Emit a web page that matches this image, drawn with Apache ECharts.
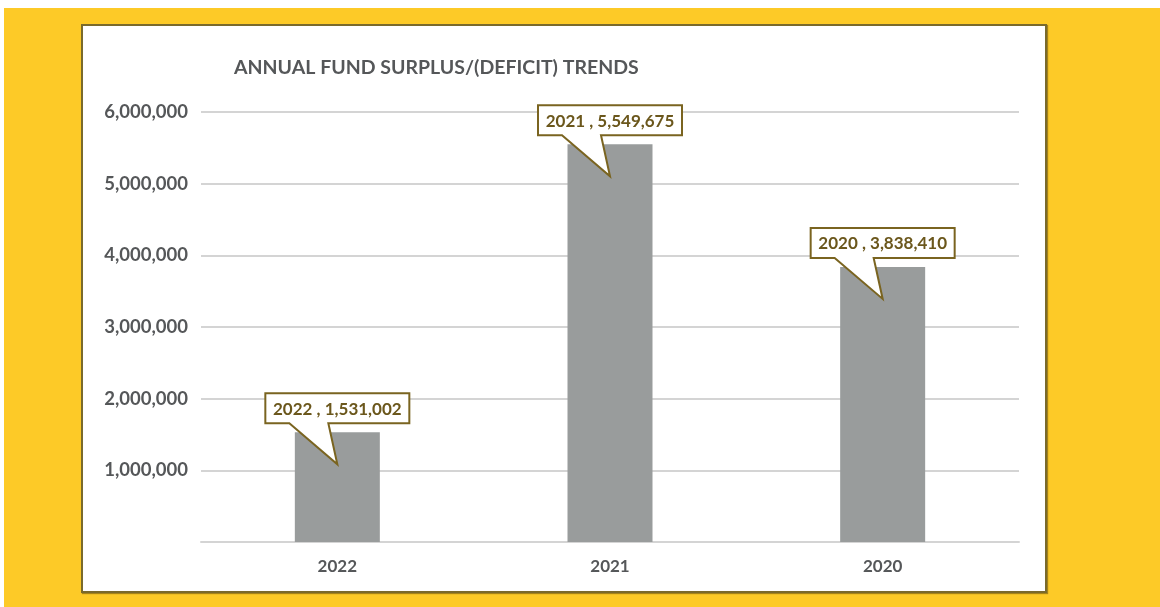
<!DOCTYPE html>
<html>
<head>
<meta charset="utf-8">
<script src="https://cdn.jsdelivr.net/npm/echarts@6/dist/echarts.min.js"></script>
<style>
  html, body { margin: 0; padding: 0; background: #fff; }
  #bg { position: absolute; left: 4px; top: 8px; width: 1156px; height: 599px; background: #fdca27; }
  #box { position: absolute; left: 81px; top: 24px; width: 962px; height: 565px; background: #fff;
         border: 2px solid #7a6a2c; box-shadow: 1px 1px 1px rgba(0,0,0,0.35); }
  #chart { position: absolute; left: 0; top: 0; width: 1160px; height: 607px; }
</style>
</head>
<body>
<div id="bg"></div>
<div id="box"></div>
<div id="chart"></div>
<script>
// chart data
const years = ["2022", "2021", "2020"];
const surplus = [1531002, 5549675, 3838410];
const yTicks = [0, 1000000, 2000000, 3000000, 4000000, 5000000, 6000000];

const fontName = "Lato";
const textGray = "#555759";
const olive = "#7a6420";

function fmt(n) {
  return n.toLocaleString("en-US");
}

let chart = echarts.init(document.getElementById("chart"));

let option = {
  backgroundColor: "transparent",
  animation: false,
  title: {
    text: "ANNUAL FUND SURPLUS/(DEFICIT) TRENDS",
    left: 229,
    top: 53,
    textStyle: { fontFamily: fontName, fontSize: 19.5, fontWeight: "bold", color: textGray }
  },
  grid: { left: 201, right: 141, top: 112, bottom: 65 },
  xAxis: {
    type: "category",
    data: years,
    axisLine: { lineStyle: { color: "#d4d4d4", width: 2 } },
    axisTick: { show: false },
    axisLabel: { margin: 16, fontFamily: fontName, fontSize: 17, fontWeight: "bold", color: textGray }
  },
  yAxis: {
    type: "value",
    min: yTicks[0],
    max: yTicks[yTicks.length - 1],
    interval: 1000000,
    axisLine: { show: false },
    axisTick: { show: false },
    splitLine: { lineStyle: { color: "#d4d4d4", width: 2 } },
    axisLabel: {
      margin: 13,
      fontFamily: fontName, fontSize: 18.5, fontWeight: "bold", color: textGray,
      formatter: v => (v === 0 ? "" : fmt(v))
    }
  },
  series: [
    {
      type: "bar",
      data: surplus,
      barWidth: 85,
      itemStyle: { color: "#999c9c" }
    },
    {
      // callout boxes
      type: "custom",
      data: surplus.map((v, i) => [i, v]),
      clip: false,
      z: 10,
      renderItem: function (params, api) {
        let idx = api.value(0);
        let pt = api.coord([idx, api.value(1)]);
        let cx = pt[0], top = pt[1];
        let w = 144, h = 30;
        let bx = cx - w / 2, by = top - 9 - h;
        let tipY = top + 32;
        let poly = [
          [bx, by], [bx + w, by], [bx + w, by + h],
          [cx - 9, by + h], [cx, tipY], [cx - 48, by + h],
          [bx, by + h]
        ];
        return {
          type: "group",
          children: [
            {
              type: "polygon",
              shape: { points: poly },
              style: { fill: "#fff", stroke: olive, lineWidth: 2 }
            },
            {
              type: "text",
              x: cx,
              y: by + h / 2 + 1,
              style: {
                text: years[idx] + " , " + fmt(surplus[idx]),
                fill: "#6b571c",
                font: "bold 17px " + fontName,
                align: "center",
                verticalAlign: "middle"
              }
            }
          ]
        };
      }
    }
  ]
};

chart.setOption(option);
</script>
</body>
</html>
